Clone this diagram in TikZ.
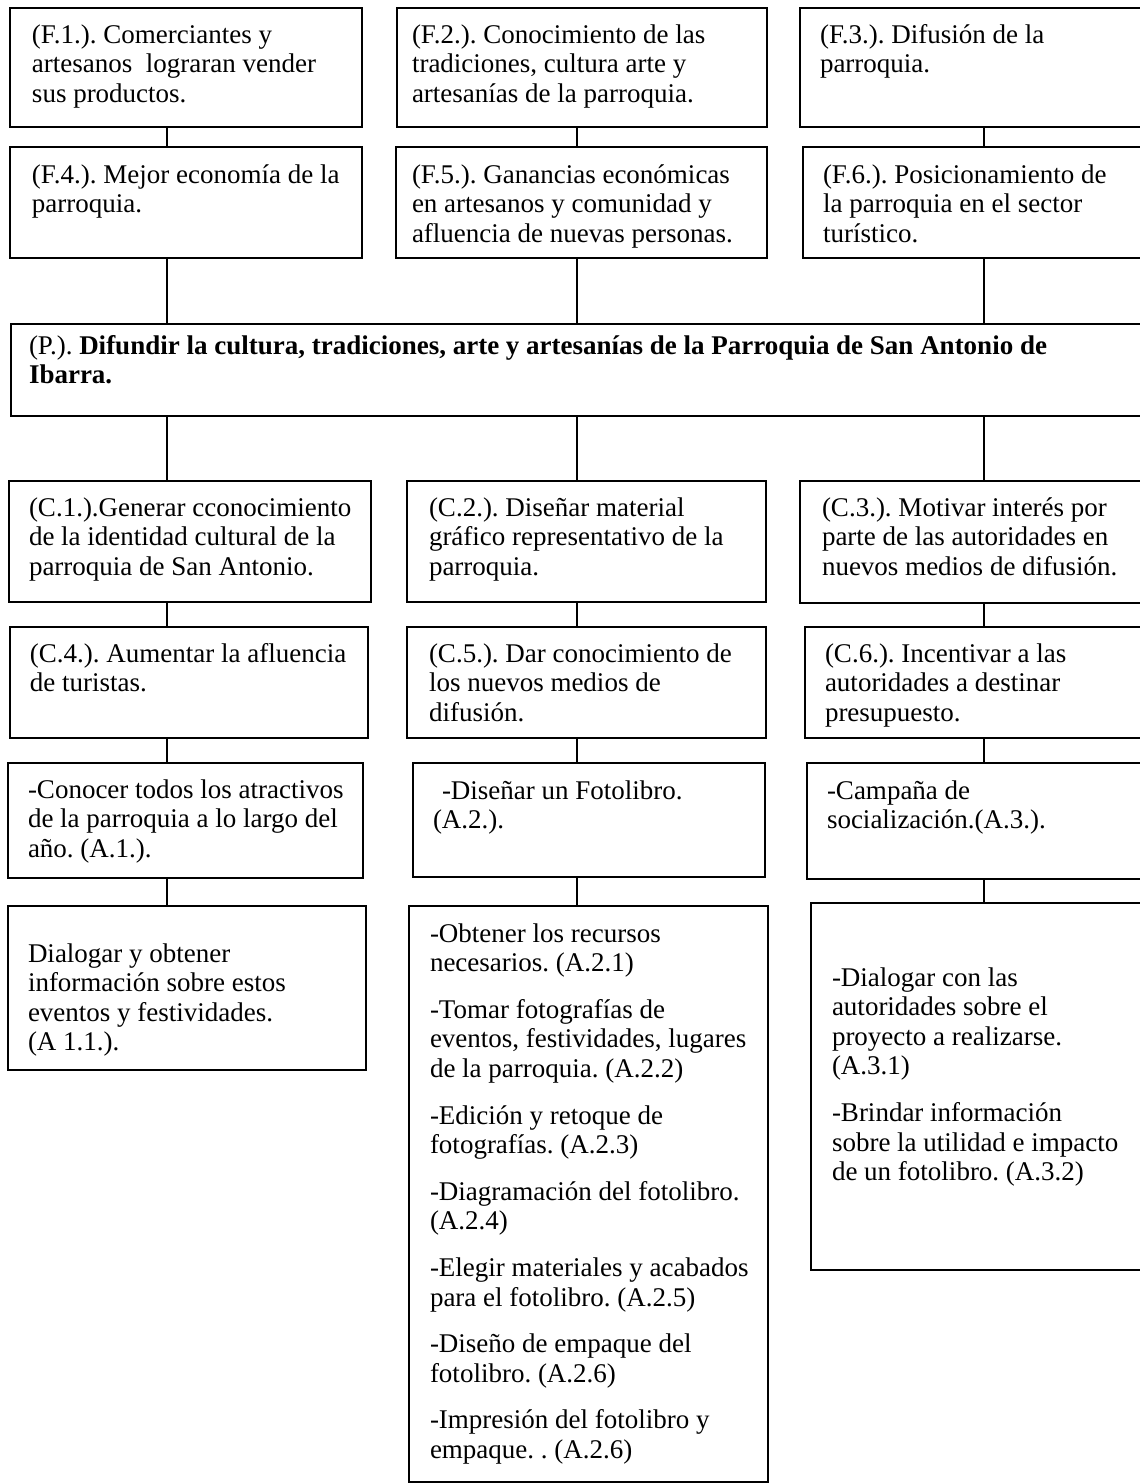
\documentclass[tikz,border=0pt]{standalone}
\usepackage{fontspec}
\setmainfont{Liberation Serif}
\usetikzlibrary{fit}
\newcommand\tlines[1]{\begin{tabular}[t]{@{}l@{}}#1\end{tabular}}
\tikzset{
  boxst/.style={draw=black, line width=1pt, inner sep=0pt, outer sep=0pt, rectangle},
  txt/.style={inner sep=0pt, outer sep=0pt, anchor=base west, font=\fontsize{13.5}{14.8}\selectfont\frenchspacing, text=black},
  conn/.style={draw=black, line width=0.9pt}
}
\begin{document}
\begin{tikzpicture}[x=0.5pt, y=-0.5pt]
\useasboundingbox (0,0) rectangle (1140,1484);
\fill[white] (0,0) rectangle (1140,1484);
\clip (0,0) rectangle (1140,1484);

\coordinate (cL) at (167,0);
\coordinate (cM) at (577,0);
\coordinate (cR) at (984,0);

% Row F1-F3
\node[boxst, fit={(10,8) (362,127)}] (f1) {};
\node[boxst, fit={(397,8) (767,127)}] (f2) {};
\node[boxst, fit={(800,8) (1150,127)}] (f3) {};
% Row F4-F6
\node[boxst, fit={(10,147) (362,258)}] (f4) {};
\node[boxst, fit={(396,147) (767,258)}] (f5) {};
\node[boxst, fit={(803,147) (1150,258)}] (f6) {};
% P
\node[boxst, fit={(11,324) (1150,416)}] (p) {};
% Row C1-C3
\node[boxst, fit={(9,481) (371,602)}] (c1) {};
\node[boxst, fit={(407,481) (766,602)}] (c2) {};
\node[boxst, fit={(800,481) (1150,603)}] (c3) {};
% Row C4-C6
\node[boxst, fit={(10,627) (368,738)}] (c4) {};
\node[boxst, fit={(407,627) (766,738)}] (c5) {};
\node[boxst, fit={(805,627) (1150,738)}] (c6) {};
% Row A
\node[boxst, fit={(8,763) (363,878)}] (a1) {};
\node[boxst, fit={(413,763) (765,877)}] (a2) {};
\node[boxst, fit={(807,763) (1150,879)}] (a3) {};
% Sub-activities
\node[boxst, fit={(8,906) (366,1070)}] (a11) {};
\node[boxst, fit={(409,906) (768,1482)}] (a2x) {};
\node[boxst, fit={(811,903) (1150,1270)}] (a3x) {};

% Connectors
\draw[conn] (f1.south -| cL) -- (f4.north -| cL);
\draw[conn] (f2.south -| cM) -- (f5.north -| cM);
\draw[conn] (f3.south -| cR) -- (f6.north -| cR);
\draw[conn] (f4.south -| cL) -- (p.north -| cL);
\draw[conn] (f5.south -| cM) -- (p.north -| cM);
\draw[conn] (f6.south -| cR) -- (p.north -| cR);
\draw[conn] (p.south -| cL) -- (c1.north -| cL);
\draw[conn] (p.south -| cM) -- (c2.north -| cM);
\draw[conn] (p.south -| cR) -- (c3.north -| cR);
\draw[conn] (c1.south -| cL) -- (c4.north -| cL);
\draw[conn] (c2.south -| cM) -- (c5.north -| cM);
\draw[conn] (c3.south -| cR) -- (c6.north -| cR);
\draw[conn] (c4.south -| cL) -- (a1.north -| cL);
\draw[conn] (c5.south -| cM) -- (a2.north -| cM);
\draw[conn] (c6.south -| cR) -- (a3.north -| cR);
\draw[conn] (a1.south -| cL) -- (a11.north -| cL);
\draw[conn] (a2.south -| cM) -- (a2x.north -| cM);
\draw[conn] (a3.south -| cR) -- (a3x.north -| cR);

% Texts
\node[txt] (f1t) at (32,43) {\tlines{(F.1.). Comerciantes y\\ artesanos~ lograran vender\\ sus productos.}};
\node[txt] (f2t) at (412,43) {\tlines{(F.2.). Conocimiento de las\\ tradiciones, cultura arte y\\ artesanías de la parroquia.}};
\node[txt] (f3t) at (820,43) {\tlines{(F.3.). Difusión de la\\ parroquia.}};
\node[txt] (f4t) at (32,183) {\tlines{(F.4.). Mejor economía de la\\ parroquia.}};
\node[txt] (f5t) at (412,183) {\tlines{(F.5.). Ganancias económicas\\ en artesanos y comunidad y\\ afluencia de nuevas personas.}};
\node[txt] (f6t) at (823,183) {\tlines{(F.6.). Posicionamiento de\\ la parroquia en el sector\\ turístico.}};
\node[txt] (pt) at (29,354) {\tlines{(P.). \textbf{Difundir la cultura, tradiciones, arte y artesanías de la Parroquia de San Antonio de}\\ \textbf{Ibarra.}}};
\node[txt] (c1t) at (29,516) {\tlines{(C.1.).Generar cconocimiento\\ de la identidad cultural de la\\ parroquia de San Antonio.}};
\node[txt] (c2t) at (429,516) {\tlines{(C.2.). Diseñar material\\ gráfico representativo de la\\ parroquia.}};
\node[txt] (c3t) at (822,516) {\tlines{(C.3.). Motivar interés por\\ parte de las autoridades en\\ nuevos medios de difusión.}};
\node[txt] (c4t) at (30,662) {\tlines{(C.4.). Aumentar la afluencia\\ de turistas.}};
\node[txt] (c5t) at (429,662) {\tlines{(C.5.). Dar conocimiento de\\ los nuevos medios de\\ difusión.}};
\node[txt] (c6t) at (825,662) {\tlines{(C.6.). Incentivar a las\\ autoridades a destinar\\ presupuesto.}};
\node[txt] (a1t) at (28,798) {\tlines{-Conocer todos los atractivos\\ de la parroquia a lo largo del\\ año. (A.1.).}};
\node[txt] (a2t) at (433,799) {\tlines{\hspace{4.5pt}-Diseñar un Fotolibro.\\ (A.2.).}};
\node[txt] (a3t) at (827,799) {\tlines{-Campaña de\\ socialización.(A.3.).}};
\node[txt] (a11t) at (28,962) {\tlines{Dialogar y obtener\\ información sobre estos\\ eventos y festividades.\\ (A 1.1.).}};
\node[txt] (a2xt) at (430,942) {\tlines{-Obtener los recursos\\ necesarios. (A.2.1)\\[8.5pt]
-Tomar fotografías de\\ eventos, festividades, lugares\\ de la parroquia. (A.2.2)\\[8.5pt]
-Edición y retoque de\\ fotografías. (A.2.3)\\[8.5pt]
-Diagramación del fotolibro.\\ (A.2.4)\\[8.5pt]
-Elegir materiales y acabados\\ para el fotolibro. (A.2.5)\\[8.5pt]
-Diseño de empaque del\\ fotolibro. (A.2.6)\\[8.5pt]
-Impresión del fotolibro y\\ empaque. . (A.2.6)}};
\node[txt] (a3xt) at (832,986) {\tlines{-Dialogar con las\\ autoridades sobre el\\ proyecto a realizarse.\\ (A.3.1)\\[8.5pt]
-Brindar información\\ sobre la utilidad e impacto\\ de un fotolibro. (A.3.2)}};
\end{tikzpicture}
\end{document}
